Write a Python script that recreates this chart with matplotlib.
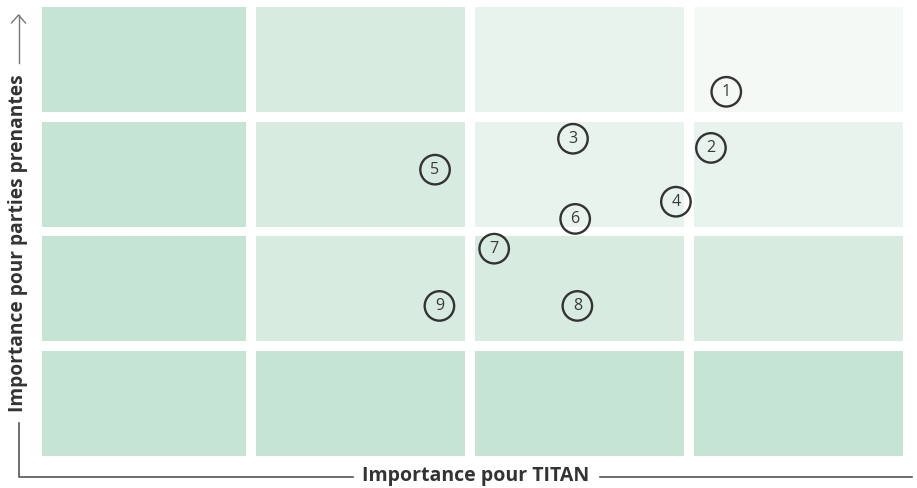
import numpy as np
import matplotlib
matplotlib.use("Agg")
import matplotlib.pyplot as plt
from matplotlib.patches import Rectangle
from matplotlib.lines import Line2D

plt.rcParams['font.family'] = ['Open Sans', 'DejaVu Sans']

# shade level of each cell, top row first (0 = darkest)
levels = [
    [0, 1, 2, 3],
    [0, 1, 2, 2],
    [0, 1, 1, 1],
    [0, 0, 0, 0],
]
shades = ['#c6e4d3', '#d8ebe1', '#e7f3ec', '#f4f9f6']

# stakeholder issues: x = importance for TITAN, y = importance for stakeholders
labels = ['1', '2', '3', '4', '5', '6', '7', '8', '9']
x_vals = [3.17, 3.10, 2.47, 2.94, 1.84, 2.48, 2.11, 2.49, 1.86]
y_vals = [3.22, 2.73, 2.81, 2.26, 2.54, 2.11, 1.85, 1.35, 1.35]

W, H = 917, 488
fig = plt.figure(figsize=(W / 100, H / 100), dpi=100)
ax = fig.add_axes([42 / W, (H - 456) / H, 861 / W, 449 / H])

gx, gy = 0.0457, 0.079
n = len(levels)
for r, row in enumerate(levels):
    for c, lv in enumerate(row):
        y0 = n - 1 - r
        ax.add_patch(Rectangle((c + gx / 2, y0 + gy / 2), 1 - gx, 1 - gy,
                               facecolor=shades[lv], edgecolor='none'))

ax.scatter(x_vals, y_vals, s=450, facecolor='none', edgecolor='#333333',
           linewidth=1.7, zorder=3)
for lab, xv, yv in zip(labels, x_vals, y_vals):
    ax.text(xv, yv, lab, ha='center', va='center', fontsize=11.5,
            color='#3a3a3a', zorder=4)

ax.set_xlim(0.045, n - gx / 2)
ax.set_ylim(gy / 2, n - gy / 2)
ax.axis('off')

# axis decorations
lc = '#555555'
def fx(p):
    return p / W
def fy(p):
    return 1 - p / H

fig.add_artist(Line2D([fx(18.5), fx(18.5), fx(353)], [fy(423), fy(477), fy(477)],
                      color=lc, lw=1.2))
fig.add_artist(Line2D([fx(600), fx(912)], [fy(477), fy(477)], color=lc, lw=1.2))
fig.add_artist(Line2D([fx(18.5), fx(18.5)], [fy(63), fy(15)], color='#777777', lw=1.0))
fig.add_artist(Line2D([fx(11.5), fx(18.5), fx(25.5)], [fy(23), fy(15), fy(23)],
                      color='#777777', lw=1.0))

fig.text(fx(476), fy(476), 'Importance pour TITAN', ha='center', va='center',
         fontsize=14, fontweight='bold', color='#333333')
fig.text(fx(18.5), fy(243), 'Importance pour parties prenantes', ha='center',
         va='center', rotation=90, fontsize=13.8, fontweight='bold',
         color='#333333')

fig.savefig('out.png', dpi=100, facecolor='white')
